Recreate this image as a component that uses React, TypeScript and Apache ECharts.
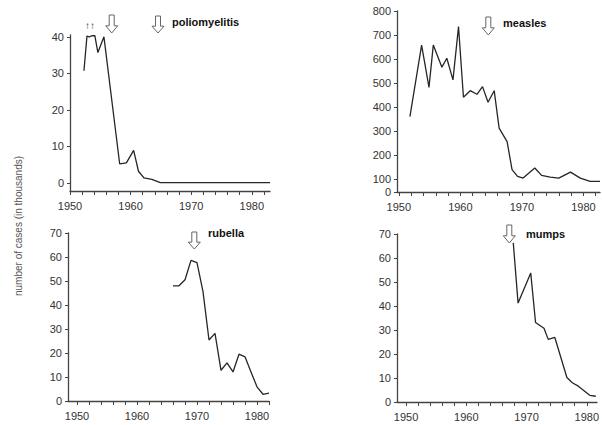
import React, { useEffect, useRef } from "react";
import * as echarts from "echarts";

// ---- data ----
const polioYears = [1952.3, 1952.8, 1953.2, 1953.6, 1954.1, 1954.6, 1955.6, 1958.2, 1959.3, 1960.5, 1961.3, 1962.2, 1963.5, 1964.9, 1983];
const polioCases = [30.7, 40.2, 40.0, 40.3, 40.3, 35.7, 40.0, 5.2, 5.5, 8.9, 3.2, 1.4, 1.0, 0.1, 0.1];

const measlesYears = [1951.8, 1953.7, 1954.9, 1955.6, 1957.0, 1957.8, 1958.8, 1959.7, 1960.5, 1961.6, 1962.7, 1963.6, 1964.5, 1965.5, 1966.3, 1967.6, 1968.4, 1969.3, 1970.2, 1972.1, 1973.2, 1974.6, 1976.0, 1977.9, 1979.5, 1981.1, 1982.7];
const measlesCases = [360, 658, 482, 658, 566, 603, 513, 735, 441, 468, 453, 485, 420, 468, 312, 256, 139, 111, 104, 146, 115, 108, 104, 129, 104, 90, 90];

const rubellaYears = [1966, 1967, 1968, 1969, 1970, 1971, 1972, 1973, 1974, 1975, 1976, 1977, 1978, 1979, 1980, 1981, 1982];
const rubellaCases = [48, 48, 50.5, 58.6, 57.7, 45.6, 25.4, 28.2, 12.8, 15.9, 12.1, 19.5, 18.4, 12.1, 5.9, 2.8, 3.3];

const mumpsYears = [1967.8, 1968.6, 1970.7, 1971.5, 1972.9, 1973.6, 1974.7, 1976.7, 1977.6, 1978.6, 1980.5, 1981.5];
const mumpsCases = [66.3, 41.2, 53.7, 33.1, 30.7, 26.1, 26.9, 10.2, 8.0, 6.6, 2.8, 2.4];

const xTickYears = [1950, 1952, 1954, 1956, 1958, 1960, 1962, 1964, 1966, 1968, 1970, 1972, 1974, 1976, 1978, 1980, 1982];
const xLabelYears = [1950, 1960, 1970, 1980];
const polioTicks = [0, 10, 20, 30, 40];
const measlesTicks = [46, 100, 200, 300, 400, 500, 600, 700, 800];
const smallTicks = [0, 10, 20, 30, 40, 50, 60, 70];

const diseaseNames = ["poliomyelitis", "measles", "rubella", "mumps"];
const yTitle = "number of cases (in thousands)";

const FONT = "'Liberation Sans', Arial, Helvetica, sans-serif";
const AXIS = "#444";
const LINE = "#262626";
const TEXT = "#333";

function pair(xs: number[], ys: number[]) {
  return xs.map((x, i) => [x, ys[i]]);
}

function xAxisFor(gridIndex: number, min: number, max: number) {
  return {
    type: "value",
    gridIndex,
    min,
    max,
    axisLine: { show: true, onZero: false, lineStyle: { color: AXIS, width: 1.3 } },
    axisTick: { show: true, customValues: xTickYears, length: 4, lineStyle: { color: AXIS, width: 1 } },
    axisLabel: {
      customValues: xLabelYears,
      margin: 9,
      color: TEXT,
      fontSize: 11,
      fontFamily: FONT,
      formatter: (v: number) => String(v),
    },
    splitLine: { show: false },
  };
}

function yAxisFor(gridIndex: number, min: number, max: number, ticks: number[], fmt?: (v: number) => string) {
  return {
    type: "value",
    gridIndex,
    min,
    max,
    axisLine: { show: true, onZero: false, lineStyle: { color: AXIS, width: 1.3 } },
    axisTick: { show: true, customValues: ticks, length: 3, lineStyle: { color: AXIS, width: 1 } },
    axisLabel: {
      customValues: ticks,
      margin: 6,
      color: TEXT,
      fontSize: 11,
      fontFamily: FONT,
      formatter: fmt || ((v: number) => String(v)),
    },
    splitLine: { show: false },
  };
}

function downArrow(cx: number, top: number, h: number) {
  const shaftH = h * 0.6;
  return {
    type: "polygon",
    shape: {
      points: [
        [cx - 2.5, top],
        [cx + 2.5, top],
        [cx + 2.5, top + shaftH],
        [cx + 6, top + shaftH],
        [cx, top + h],
        [cx - 6, top + shaftH],
        [cx - 2.5, top + shaftH],
      ],
    },
    style: { fill: "#fff", stroke: "#666", lineWidth: 1 },
  };
}

function label(text: string, x: number, y: number) {
  return {
    type: "text",
    x,
    y,
    style: {
      text,
      fill: "#111",
      font: `bold 11px ${FONT}`,
      verticalAlign: "middle",
    },
  };
}

export default function App() {
  const ref = useRef<HTMLDivElement>(null);
  useEffect(() => {
    if (!ref.current) return;
    const chart = echarts.init(ref.current, undefined, { renderer: "svg" });
    const lineSeries = (i: number, data: number[][]) => ({
      type: "line",
      xAxisIndex: i,
      yAxisIndex: i,
      data,
      showSymbol: false,
      symbol: "none",
      lineStyle: { color: LINE, width: 1.3 },
      silent: true,
    });
    chart.setOption({
      animation: false,
      backgroundColor: "#fff",
      grid: [
        { left: 70, top: 35, width: 200, height: 156 },
        { left: 397, top: 11, width: 203, height: 181 },
        { left: 68, top: 233, width: 201, height: 168 },
        { left: 397, top: 234, width: 202, height: 168 },
      ],
      xAxis: [
        xAxisFor(0, 1950, 1983),
        xAxisFor(1, 1949.7, 1982.7),
        xAxisFor(2, 1948.5, 1982),
        xAxisFor(3, 1948.5, 1981.7),
      ],
      yAxis: [
        yAxisFor(0, -2.2, 40.5, polioTicks),
        yAxisFor(1, 46, 800, measlesTicks, (v: number) => (v < 100 ? "0" : String(v))),
        yAxisFor(2, 0, 70, smallTicks),
        yAxisFor(3, 0, 70, smallTicks),
      ],
      series: [
        lineSeries(0, pair(polioYears, polioCases)),
        lineSeries(1, pair(measlesYears, measlesCases)),
        lineSeries(2, pair(rubellaYears, rubellaCases)),
        lineSeries(3, pair(mumpsYears, mumpsCases)),
      ],
      graphic: [
        {
          type: "text",
          x: 18,
          y: 226,
          rotation: Math.PI / 2,
          style: {
            text: yTitle,
            fill: "#555",
            font: `10px ${FONT}`,
            align: "center",
            verticalAlign: "middle",
          },
        },
        {
          type: "text",
          x: 90,
          y: 25,
          style: { text: "↑↑", fill: "#333", font: `10px ${FONT}`, align: "center", verticalAlign: "middle" },
        },
        downArrow(111.7, 15, 18),
        downArrow(158, 16, 17),
        downArrow(488.3, 17, 18),
        downArrow(194.3, 232, 17),
        downArrow(509.3, 225, 18),
        label(diseaseNames[0], 172, 22),
        label(diseaseNames[1], 503, 23),
        label(diseaseNames[2], 208, 233),
        label(diseaseNames[3], 526, 234),
      ],
    });
    return () => chart.dispose();
  }, []);
  return (
    <div
      ref={ref}
      style={{ position: "fixed", left: 0, top: 0, width: 602, height: 425, background: "#fff" }}
    />
  );
}
